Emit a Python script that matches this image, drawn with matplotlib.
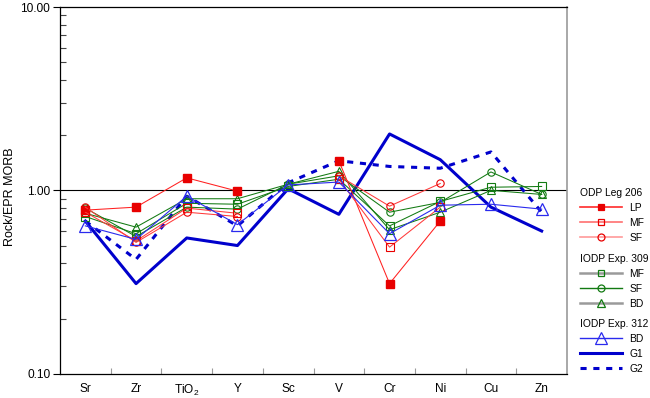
import numpy as np
import matplotlib
matplotlib.use('Agg')
import matplotlib.pyplot as plt
from matplotlib.lines import Line2D
from matplotlib.ticker import FixedLocator, NullFormatter, LogLocator, FixedFormatter

plt.rcParams['font.family'] = ['Liberation Sans', 'DejaVu Sans']
plt.rcParams['mathtext.fontset'] = 'custom'
plt.rcParams['mathtext.rm'] = 'Liberation Sans'
plt.rcParams['mathtext.it'] = 'Liberation Sans'

elements = ['Sr', 'Zr', 'TiO$_2$', 'Y', 'Sc', 'V', 'Cr', 'Ni', 'Cu', 'Zn']
nan = np.nan
lp_206 = [0.78, 0.81, 1.17, 0.99, nan, 1.45, 0.31, 0.68, nan, nan]
mf_206 = [0.76, 0.53, 0.80, 0.75, nan, 1.15, 0.49, 0.81, nan, nan]
sf_206 = [0.81, 0.52, 0.76, 0.72, nan, 1.20, 0.82, 1.09, nan, nan]
mf_309 = [0.72, 0.58, 0.85, 0.84, 1.05, 1.15, 0.64, 0.87, 1.04, 1.05]
sf_309 = [0.80, 0.56, 0.81, 0.79, 1.08, 1.20, 0.76, 0.86, 1.26, 0.95]
bd_309 = [0.75, 0.63, 0.90, 0.90, 1.08, 1.27, 0.61, 0.76, 1.00, 0.95]
bd_312 = [0.64, 0.54, 0.93, 0.65, 1.07, 1.11, 0.58, 0.83, 0.84, 0.79]
g1 = [0.68, 0.31, 0.55, 0.50, 1.02, 0.74, 2.03, 1.47, 0.81, 0.60]
g2 = [0.68, 0.42, 0.93, 0.64, 1.10, 1.45, 1.35, 1.32, 1.62, 0.76]

FS = 8.6
LFS = 7.4
RED = '#e80000'
GREEN = '#127a12'
GREY = '#9a9a9a'
BLUE = '#0000cc'

fig = plt.figure(figsize=(6.5, 3.98), dpi=100)
ax = fig.add_axes([60 / 650, (398 - 373.7) / 398, (567 - 60) / 650, (373.7 - 7) / 398])
x = np.arange(len(elements))

ax.axhline(1.0, color='black', lw=0.8, zorder=1)

ax.plot(x, g1, color=BLUE, lw=2.2, zorder=2)
ax.plot(x, g2, color=BLUE, lw=2.2, ls=(0, (2, 2.2)), zorder=2)

ax.plot(x, mf_309, color=GREEN, lw=0.75, marker='s', ms=5.3, mfc='none', mec=GREEN, mew=0.8, zorder=3)
ax.plot(x, sf_309, color=GREEN, lw=0.75, marker='o', ms=5.3, mfc='none', mec=GREEN, mew=0.8, zorder=3)
ax.plot(x, bd_309, color=GREEN, lw=0.75, marker='^', ms=6.3, mfc='none', mec=GREEN, mew=0.8, zorder=3)

ax.plot(x, lp_206, color='#ff2020', lw=0.75, marker='s', ms=5.3, mfc=RED, mec=RED, zorder=4)
ax.plot(x, mf_206, color='#ff3a3a', lw=0.75, marker='s', ms=5.3, mfc='none', mec=RED, mew=0.8, zorder=4)
ax.plot(x, sf_206, color='#ff3a3a', lw=0.75, marker='o', ms=5.3, mfc='none', mec=RED, mew=0.8, zorder=4)

ax.plot(x, bd_312, color='#2a2aee', lw=0.8, marker='^', ms=9, mfc='none', mec='#2a2aee', mew=0.9, zorder=5)

ax.set_yscale('log')
ax.set_ylim(0.1, 10)
ax.set_xlim(-0.5, len(elements) - 0.5)

ax.yaxis.set_major_locator(FixedLocator([0.1, 1, 10]))
ax.yaxis.set_major_formatter(FixedFormatter(['0.10', '1.00', '10.00']))
ax.yaxis.set_minor_locator(LogLocator(base=10, subs=np.arange(2, 10)))
ax.yaxis.set_minor_formatter(NullFormatter())
ax.tick_params(axis='y', which='major', direction='out', length=5, width=0.8, labelsize=FS, pad=2)
ax.tick_params(axis='y', which='minor', direction='in', length=4, width=0.8, color='#444444')

ax.set_xticks(x)
ax.set_xticklabels(elements)
ax.xaxis.set_minor_locator(FixedLocator(x[:-1] + 0.5))
ax.tick_params(axis='x', which='major', length=0, labelsize=FS, pad=6.5)
ax.tick_params(axis='x', which='minor', direction='in', length=4, width=0.8, color=GREY)

for side in ['left', 'bottom', 'top']:
    ax.spines[side].set_color('black')
    ax.spines[side].set_linewidth(0.9)
ax.spines['right'].set_color(GREY)
ax.spines['right'].set_linewidth(1.2)

fig.text(10 / 650, 1 - 197 / 398, 'Rock/EPR MORB', rotation=90, ha='center', va='center', fontsize=FS + 0.4)

# Legends
def lh(color, marker=None, ms=5.0, mfc='none', mec=None, ls='-', lw=1.2):
    return Line2D([], [], color=color, lw=lw, ls=ls, marker=marker, ms=ms, mfc=mfc,
                  mec=mec if mec else color, mew=0.9)

groups = [
    ('ODP Leg 206', [
        (lh('#ff2a2a', 's', mfc=RED, mec=RED), 'LP'),
        (lh('#ff7070', 's', mec=RED), 'MF'),
        (lh('#ff9a9a', 'o', mec=RED), 'SF'),
    ], 188),
    ('IODP Exp. 309', [
        (lh(GREY, 's', mec=GREEN, lw=1.8), 'MF'),
        (lh(GREEN, 'o', mec=GREEN, lw=1.0), 'SF'),
        (lh(GREY, '^', ms=6.0, mec=GREEN, lw=1.8), 'BD'),
    ], 254),
    ('IODP Exp. 312', [
        (lh('#2a2aee', '^', ms=8.5, mec='#2a2aee', lw=1.0), 'BD'),
        (lh(BLUE, lw=2.2), 'G1'),
        (lh(BLUE, ls=(0, (2, 2.2)), lw=2.2), 'G2'),
    ], 319),
]
for title, items, ytop in groups:
    leg = fig.legend([h for h, _ in items], [l for _, l in items],
                     loc='upper left', bbox_to_anchor=(580 / 650, 1 - ytop / 398),
                     bbox_transform=fig.transFigure, frameon=False, fontsize=LFS,
                     title=title, title_fontsize=LFS, alignment='left',
                     borderpad=0, borderaxespad=0, handlelength=4.1, handletextpad=0.68,
                     labelspacing=0.48)

fig.savefig('out.png', dpi=100)
